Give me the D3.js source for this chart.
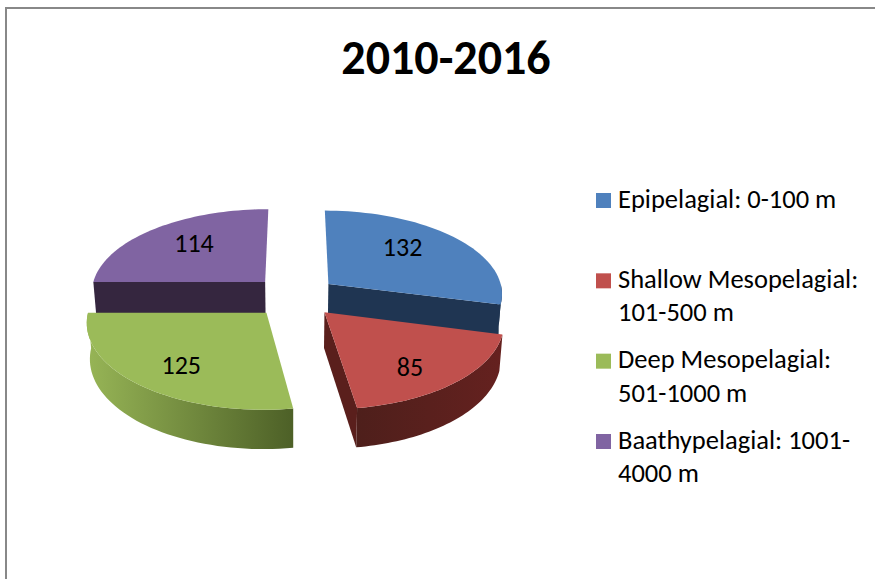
<html>
<head>
  <style>
    body { margin: 0; background: #fff; }
    svg { display: block; }
    text { font-family: Carlito, Lato, sans-serif; fill: #000; }
  </style>
  <script src="https://d3js.org/d3.v7.min.js"></script>
</head>
<body>
  <div id="chart"></div>
  <script type="text/javascript">
    var titleText = "2010-2016"
    var categories = ["Epipelagial: 0-100 m", "Shallow Mesopelagial: 101-500 m", "Deep Mesopelagial: 501-1000 m", "Baathypelagial: 1001-4000 m"]
    var legendLines = [["Epipelagial: 0-100 m"], ["Shallow Mesopelagial:", "101-500 m"], ["Deep Mesopelagial:", "501-1000 m"], ["Baathypelagial: 1001-", "4000 m"]]
    var values = [132, 85, 125, 114]

    var topColors = ["#4f81bd", "#c0504d", "#9bbb59", "#8064a2"]
    var cutColors = ["#1f3552", "#5a1f1c", "#4f6228", "#35263f"]
    var wallLight = ["#1f3552", "#65211f", "#97b556", "#35263f"]
    var wallDark  = ["#1f3552", "#4e1f1b", "#4d6027", "#35263f"]
    // which radial cut of each slice faces the viewer
    var cutEdge = ["end", "end", null, "start"]
    var drawOrder = [3, 0, 2, 1]
    // hand nudge of the value labels, excel does not centre them exactly
    var labelNudge = [[-4, 1], [5, 2], [-7, -2], [-2, 4]]

    var width = 875, height = 579
    var cx = 295, cy = 296.5
    var radius = 175, explode = 43, depth = 35
    var tilt = 0.485, persp = 0.0006

    var svg = d3.select("#chart").append("svg").attr("width", width).attr("height", height)
    var defs = svg.append("defs")

    // frame: only top and left show in the picture
    svg.append("path")
      .attr("d", "M6,579V8H875")
      .attr("fill", "none").attr("stroke", "#888").attr("stroke-width", 2)

    svg.append("text")
      .attr("x", 446).attr("y", 74)
      .attr("text-anchor", "middle")
      .attr("font-size", 48).attr("font-weight", 700)
      .text(titleText)

    var slices = d3.pie().sort(null)(values)

    // plane point -> screen point. a is clockwise from 12 o'clock
    function project(slice, a, rx, ry, drop) {
      var mid = (slice.startAngle + slice.endAngle) / 2
      var X = explode * Math.sin(mid) + rx * Math.sin(a)
      var Y = -(explode * Math.cos(mid) + ry * Math.cos(a))
      var s = 1 + persp * Y
      return [cx + X * s * (drop ? 0.985 : 1), cy + Y * tilt * s + (drop ? depth * s : 0)]
    }

    function rim(slice, a0, a1, drop) {
      var n = 48
      return d3.range(n + 1).map(function(i) {
        return project(slice, a0 + (a1 - a0) * i / n, radius, radius, drop)
      })
    }

    var line = d3.line()

    drawOrder.forEach(function(i) {
      var slice = slices[i]
      var g = svg.append("g")

      // radial cut face
      if (cutEdge[i]) {
        var a = cutEdge[i] == "end" ? slice.endAngle : slice.startAngle
        g.append("path")
          .attr("d", line([
            project(slice, a, 0, 0, false),
            project(slice, a, radius, radius, false),
            project(slice, a, radius, radius, true),
            project(slice, a, 0, 0, true)
          ]) + "Z")
          .attr("fill", cutColors[i])
      }

      // outer wall, only the part that turns toward the viewer
      var w0 = Math.max(slice.startAngle, Math.PI / 2)
      var w1 = Math.min(slice.endAngle, Math.PI * 1.5)
      if (w1 > w0) {
        var upper = rim(slice, w0, w1, false)
        var lower = rim(slice, w0, w1, true).reverse()
        var xs = d3.extent(upper, function(p) { return p[0] })
        var grad = defs.append("linearGradient")
          .attr("id", "wall_" + i)
          .attr("gradientUnits", "userSpaceOnUse")
          .attr("x1", xs[0]).attr("x2", xs[1]).attr("y1", 0).attr("y2", 0)
        grad.append("stop").attr("offset", 0).attr("stop-color", wallLight[i])
        grad.append("stop").attr("offset", 1).attr("stop-color", wallDark[i])
        if (i == 1) {
          grad.selectAll("stop").attr("stop-color", function(d, k) { return k == 0 ? wallDark[i] : wallLight[i] })
        }
        g.append("path")
          .attr("d", line(upper.concat(lower)) + "Z")
          .attr("fill", "url(#wall_" + i + ")")
      }

      // top face
      var apex = project(slice, 0, 0, 0, false)
      g.append("path")
        .attr("d", line([apex].concat(rim(slice, slice.startAngle, slice.endAngle, false))) + "Z")
        .attr("fill", topColors[i])
    })

    // value labels
    slices.forEach(function(slice, i) {
      var mid = (slice.startAngle + slice.endAngle) / 2
      var p = project(slice, mid, radius * 0.62, radius * 0.78, false)
      svg.append("text")
        .attr("x", p[0] + labelNudge[i][0]).attr("y", p[1] + labelNudge[i][1] + 8)
        .attr("text-anchor", "middle")
        .attr("font-size", 26)
        .text(values[i])
    })

    // legend
    var legendY = d3.scalePoint().domain(categories).range([200.5, 441.5])
    categories.forEach(function(c, i) {
      var g = svg.append("g").attr("transform", "translate(0," + legendY(c) + ")")
      g.append("rect")
        .attr("x", 596).attr("y", -7.5)
        .attr("width", 15).attr("height", 15)
        .attr("fill", topColors[i])
      g.selectAll("text").data(legendLines[i]).enter().append("text")
        .attr("x", 618)
        .attr("y", function(d, k) { return 7 + k * 33.5 })
        .attr("font-size", 26.5)
        .text(function(d) { return d })
    })
  </script>
</body>
</html>
